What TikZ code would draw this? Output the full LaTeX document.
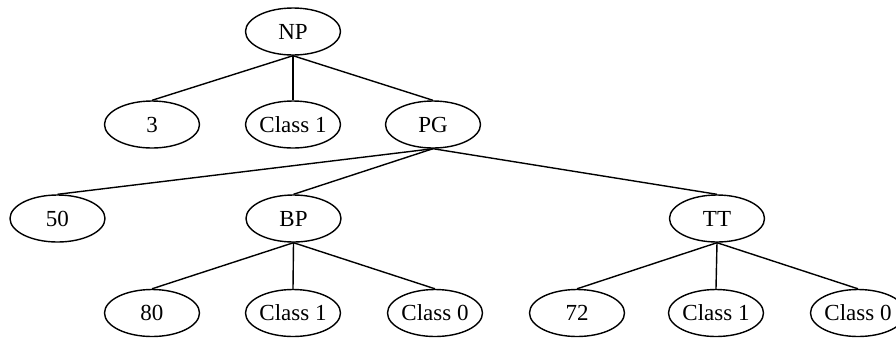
\documentclass[tikz,border=0pt]{standalone}
\usepackage{fontspec}
\setmainfont{Liberation Serif}
\usetikzlibrary{shapes.geometric}

\begin{document}
\begin{tikzpicture}[x=0.5pt, y=-0.5pt, line width=0.7pt,
		leaf/.style={draw, ellipse, minimum width=47.5pt, minimum height=23.5pt, inner sep=0pt, font=\fontsize{11.5}{13}\selectfont}]
		%%%%% START %%%%%
		
		\useasboundingbox (0, 0) rectangle (896, 339);
		
		\node[leaf] (np) at (293, 31.5) {NP};
		
		\node[leaf] (three) at (152, 124.5) {3};
		\node[leaf] (cls1a) at (293, 124.5) {Class 1};
		\node[leaf] (pg) at (433, 124.5) {PG};
		
		\node[leaf] (fifty) at (57.5, 218.5) {50};
		\node[leaf] (bp) at (293.5, 218.5) {BP};
		\node[leaf] (tt) at (717, 218.5) {TT};
		
		\node[leaf] (eighty) at (152, 313) {80};
		\node[leaf] (cls1b) at (293, 313) {Class 1};
		\node[leaf] (cls0a) at (435, 313) {Class 0};
		\node[leaf] (seventytwo) at (577, 313) {72};
		\node[leaf] (cls1c) at (716, 313) {Class 1};
		\node[leaf] (cls0b) at (858, 313) {Class 0};
		
		\draw (np.south) -- (three.north);
		\draw (np.south) -- (cls1a.north);
		\draw (np.south) -- (pg.north);
		
		\draw (pg.south) -- (fifty.north);
		\draw (pg.south) -- (bp.north);
		\draw (pg.south) -- (tt.north);
		
		\draw (bp.south) -- (eighty.north);
		\draw (bp.south) -- (cls1b.north);
		\draw (bp.south) -- (cls0a.north);
		
		\draw (tt.south) -- (seventytwo.north);
		\draw (tt.south) -- (cls1c.north);
		\draw (tt.south) -- (cls0b.north);
		
		%%%%% END %%%%%
	\end{tikzpicture}
\end{document}
